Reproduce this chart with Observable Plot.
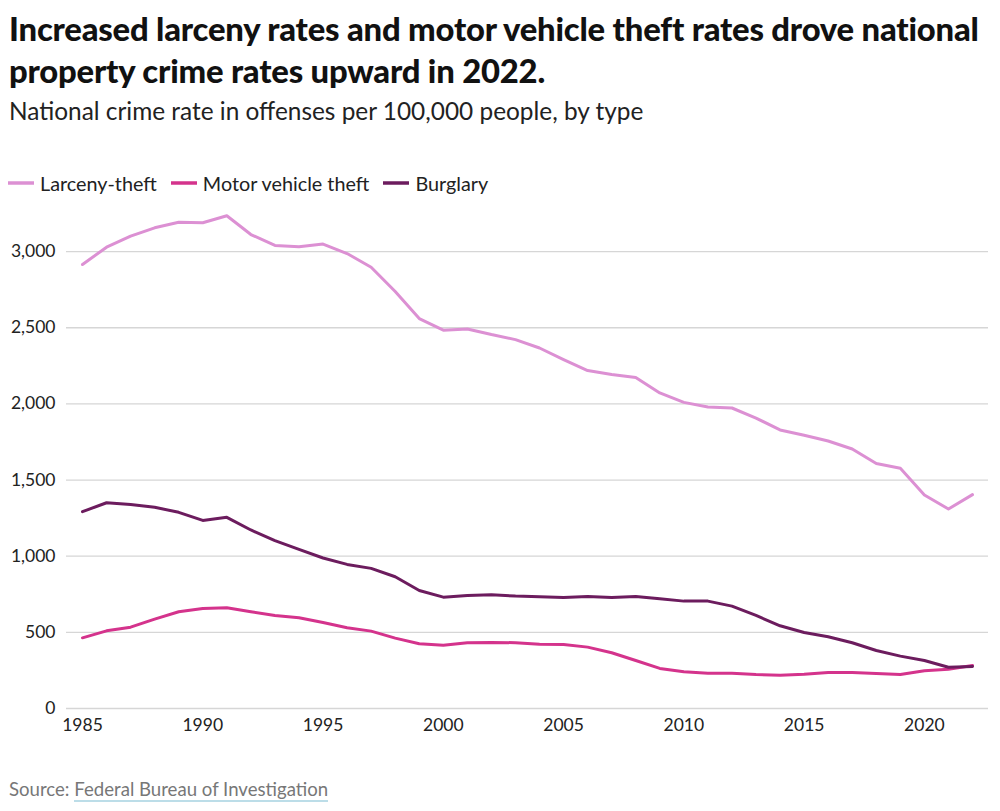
<!DOCTYPE html>
<html>
<head>
<meta charset="utf-8">
<script src="https://cdn.jsdelivr.net/npm/d3@7"></script>
<script src="https://cdn.jsdelivr.net/npm/@observablehq/plot@0.6"></script>
<style>
  body { margin: 0; background: #fff; font-family: Lato, "Noto Sans", sans-serif; color: #111; }
  #wrap { width: 1000px; height: 811px; position: relative; overflow: hidden; }
  #title { position: absolute; left: 9px; top: 8px; font-size: 32.8px; font-weight: 900; line-height: 42px; width: 995px; letter-spacing: -0.2px; white-space: nowrap; }
  #subtitle { position: absolute; left: 9px; top: 96px; font-size: 24.4px; line-height: 30px; color: #222; }
  #legend { position: absolute; left: 8px; top: 171px; font-size: 19.8px; line-height: 24px; display: flex; color: #222; }
  #legend .item { display: flex; align-items: center; margin-right: 14px; }
  #legend svg { margin-right: 6px; }
  #chart { position: absolute; left: 0; top: 200px; }
  #source { position: absolute; left: 9px; top: 778px; font-size: 18.6px; color: #777; }
  #source span { border-bottom: 2px solid #bcdde8; }
</style>
</head>
<body>
<div id="wrap">
  <div id="title">Increased larceny rates and motor vehicle theft rates drove national<br>property crime rates upward in 2022.</div>
  <div id="subtitle">National crime rate in offenses per 100,000 people, by type</div>
  <div id="legend"></div>
  <div id="chart"></div>
  <div id="source">Source: <span>Federal Bureau of Investigation</span></div>
</div>
<script>
const years = d3.range(1985, 2023);
const seriesNames = ["Larceny-theft", "Motor vehicle theft", "Burglary"];
const seriesColors = ["#dc90d3", "#d4338c", "#6c1c5e"];
const larceny = [2915, 3029, 3101, 3156, 3193, 3189, 3235, 3112, 3040, 3031, 3049, 2987, 2897, 2738, 2560, 2484, 2492, 2455, 2422, 2367, 2291, 2219, 2193, 2173, 2072, 2010, 1980, 1973, 1907, 1829, 1794, 1756, 1704, 1608, 1577, 1402, 1310, 1404];
const motor = [464, 510, 534, 587, 635, 657, 661, 635, 611, 596, 565, 530, 508, 462, 425, 416, 432, 434, 432, 422, 420, 403, 366, 315, 263, 241, 232, 232, 223, 219, 225, 237, 237, 230, 223, 248, 258, 283];
const burglary = [1292, 1351, 1340, 1321, 1288, 1235, 1255, 1172, 1102, 1045, 988, 946, 920, 865, 775, 731, 742, 747, 738, 734, 729, 736, 729, 736, 721, 705, 705, 672, 611, 543, 499, 471, 432, 381, 344, 315, 271, 276];
const xTicks = [1985, 1990, 1995, 2000, 2005, 2010, 2015, 2020];
const yTicks = [0, 500, 1000, 1500, 2000, 2500, 3000];

const values = [larceny, motor, burglary];
const data = [];
seriesNames.forEach((s, i) => years.forEach((y, j) => data.push({series: s, year: y, value: values[i][j]})));

// legend
const leg = document.getElementById("legend");
seriesNames.forEach((s, i) => {
  const it = document.createElement("div");
  it.className = "item";
  it.innerHTML = `<svg width="26" height="6"><line x1="0" y1="3" x2="26" y2="3" stroke="${seriesColors[i]}" stroke-width="3.5"/></svg><span>${s}</span>`;
  leg.appendChild(it);
});

const chart = Plot.plot({
  width: 1000,
  height: 550,
  marginLeft: 66,
  marginRight: 12,
  marginTop: 13,
  marginBottom: 42,
  style: { fontFamily: "Lato, 'Noto Sans', sans-serif", fontSize: "17.5px", color: "#222", background: "#fff" },
  x: { domain: [1984.335, 2022.665], ticks: xTicks, tickFormat: d => String(d), tickSize: 0, tickPadding: 10, label: null },
  y: { domain: [0, 3250], ticks: yTicks, tickFormat: d3.format(","), tickSize: 0, tickPadding: 11, label: null },
  color: { domain: seriesNames, range: seriesColors },
  marks: [
    Plot.gridY(yTicks, { stroke: "#d6d6d6", strokeOpacity: 1, strokeWidth: 1.3 }),
    Plot.axisY({ ticks: yTicks, tickFormat: d3.format(","), tickSize: 0, tickPadding: 11, fontSize: 17.5 }),
    Plot.axisX({ ticks: xTicks, tickFormat: d => String(d), tickSize: 0, tickPadding: 10, fontSize: 17.5 }),
    Plot.line(data, { x: "year", y: "value", z: "series", stroke: "series", strokeWidth: 3, strokeLinejoin: "round", strokeLinecap: "round" })
  ]
});
document.getElementById("chart").appendChild(chart);
</script>
</body>
</html>
